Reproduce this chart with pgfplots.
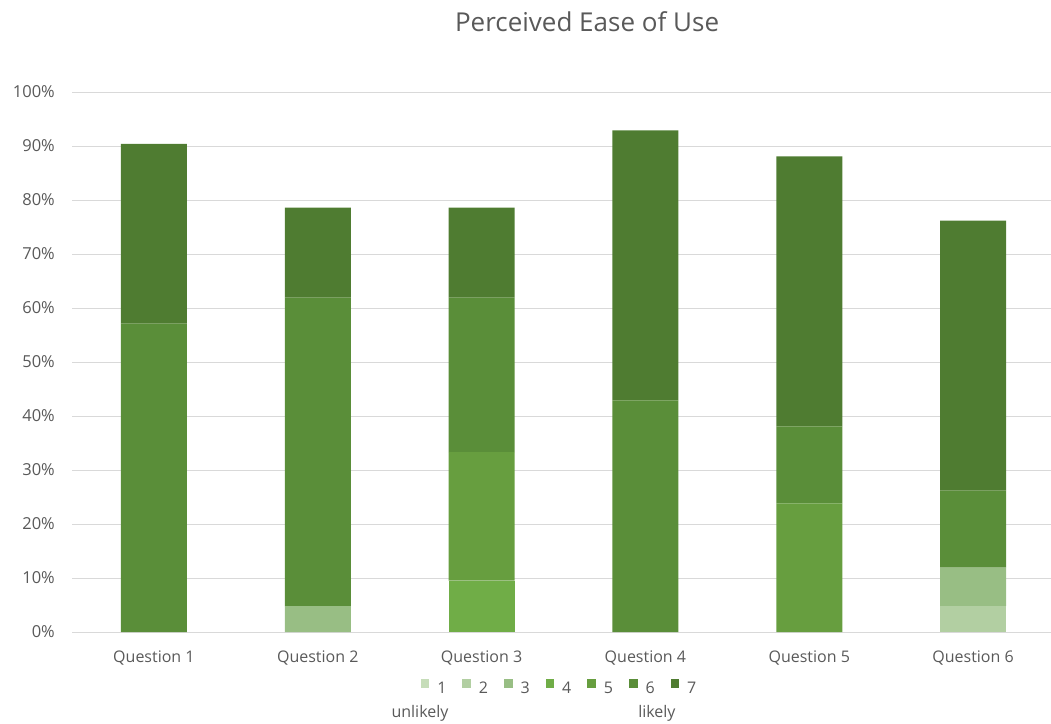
\documentclass[border=0pt]{standalone}
\usepackage{pgfplots}
\pgfplotsset{compat=1.18}
\usepackage{fontspec}
\setmainfont{Open Sans}
\definecolor{c1}{HTML}{C6DDB9}
\definecolor{c2}{HTML}{B2CFA2}
\definecolor{c3}{HTML}{98BE84}
\definecolor{c4}{HTML}{70AD47}
\definecolor{c5}{HTML}{679E3F}
\definecolor{c6}{HTML}{5A8E39}
\definecolor{c7}{HTML}{4F7C31}
\definecolor{txt}{HTML}{595959}
\definecolor{gridc}{HTML}{D9D9D9}
\pgfplotsset{sqlegend/.style={legend image code/.code={\fill[##1] (0pt,0.5pt) rectangle (8.5pt,9pt);}}}
\begin{document}
\begin{tikzpicture}
\useasboundingbox (-72pt,-91pt) rectangle (979pt,632pt);
\begin{axis}[
  width=983pt, height=540pt, scale only axis,
  ybar stacked, bar width=66pt,
  xmin=-0.5, xmax=5.5, ymin=0, ymax=100,
  xtick={0,1,2,3,4,5},
  xticklabels={Question 1,Question 2,Question 3,Question 4,Question 5,Question 6},
  ytick={0,10,...,100},
  yticklabel={\pgfmathprintnumber{\tick}\%},
  ymajorgrids, grid style={color=gridc, line width=0.9pt},
  axis line style={draw=none}, major tick length=0pt,
  tick label style={font=\fontsize{16}{19}\selectfont, text=txt},
  yticklabel style={font=\fontsize{16.5}{19}\selectfont},
  /pgf/number format/assume math mode=true,
  yticklabel style={inner sep=0pt, xshift=-17pt},
  xticklabel style={inner sep=0pt, yshift=-19pt},
  legend columns=7,
  legend style={draw=none, fill=none, at={(0.496,-0.104)}, anchor=center,
    font=\fontsize{16}{19}\selectfont, text=txt,
    /tikz/every odd column/.append style={column sep=6pt},
    /tikz/every even column/.append style={column sep=14pt}},
  clip=false,
]
\addplot[fill=c1, draw=none, sqlegend] coordinates {(0,0) (1,0) (2,0) (3,0) (4,0) (5,0)};
\addplot[fill=c2, draw=none, sqlegend] coordinates {(0,0) (1,0) (2,0) (3,0) (4,0) (5,4.8)};
\addplot[fill=c3, draw=none, sqlegend] coordinates {(0,0) (1,4.8) (2,0) (3,0) (4,0) (5,7.1)};
\addplot[fill=c4, draw=none, sqlegend] coordinates {(0,0) (1,0) (2,9.5) (3,0) (4,0) (5,0)};
\addplot[fill=c5, draw=none, sqlegend] coordinates {(0,0) (1,0) (2,23.8) (3,0) (4,23.8) (5,0)};
\addplot[fill=c6, draw=none, sqlegend] coordinates {(0,57.1) (1,57.1) (2,28.6) (3,42.9) (4,14.3) (5,14.3)};
\addplot[fill=c7, draw=none, sqlegend] coordinates {(0,33.3) (1,16.7) (2,16.7) (3,50.0) (4,50.0) (5,50.0)};
\legend{1,2,3,4,5,6,7}
\node[font=\fontsize{26}{31}\selectfont, text=txt] at (rel axis cs:0.524,1.13) {Perceived Ease of Use};
\node[font=\fontsize{16}{19}\selectfont, text=txt] at (rel axis cs:0.354,-0.15) {unlikely};
\node[font=\fontsize{16}{19}\selectfont, text=txt] at (rel axis cs:0.595,-0.15) {likely};
\end{axis}
\end{tikzpicture}
\end{document}
